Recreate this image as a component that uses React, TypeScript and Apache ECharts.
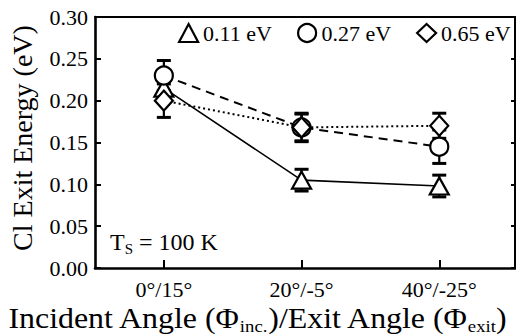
import React, { useEffect, useRef } from "react";
import * as echarts from "echarts";

const categories = ["0°/15°", "20°/-5°", "40°/-25°"];
const names = ["0.11 eV", "0.27 eV", "0.65 eV"];
const e011 = [0.215, 0.105, 0.098];
const err011 = [0.012, 0.013, 0.013];
const e027 = [0.23, 0.168, 0.145];
const err027 = [0.018, 0.016, 0.02];
const e065 = [0.2, 0.168, 0.17];
const err065 = [0.02, 0.017, 0.015];
const yTicks = [0, 0.05, 0.1, 0.15, 0.2, 0.25, 0.3];

const FONT = "Liberation Serif";

export default function App() {
  const ref = useRef<HTMLDivElement>(null);
  useEffect(() => {
    if (!ref.current) return;
    const chart = echarts.init(ref.current, undefined, { renderer: "svg" });

    const pts = (vals: number[]) => vals.map((v, i) => [i, v]);
    const errData = (vals: number[], errs: number[]) =>
      vals.map((v, i) => [i, v - errs[i], v + errs[i]]);

    const errSeries = (vals: number[], errs: number[]) => ({
      type: "custom",
      z: 1,
      silent: true,
      data: errData(vals, errs),
      renderItem: (params: any, api: any) => {
        const x = api.value(0);
        const lo = api.coord([x, api.value(1)]);
        const hi = api.coord([x, api.value(2)]);
        const w = 7;
        const st = { stroke: "#000", lineWidth: 2.2 };
        return {
          type: "group",
          children: [
            { type: "line", shape: { x1: lo[0], y1: lo[1], x2: hi[0], y2: hi[1] }, style: st },
            { type: "line", shape: { x1: lo[0] - w, y1: lo[1], x2: lo[0] + w, y2: lo[1] }, style: { stroke: "#000", lineWidth: 3 } },
            { type: "line", shape: { x1: hi[0] - w, y1: hi[1], x2: hi[0] + w, y2: hi[1] }, style: { stroke: "#000", lineWidth: 3 } },
          ],
        };
      },
    });

    const markerStyle = { color: "#fff", borderColor: "#000", borderWidth: 2.2 };
    const lineSeries = (name: string, vals: number[], symbol: string, size: any, ltype: any, lw: number) => ({
      type: "line",
      name,
      z: 3,
      data: pts(vals),
      symbol,
      symbolSize: size,
      itemStyle: markerStyle,
      lineStyle: { color: "#000", type: ltype, width: lw },
    });

    const legendCommon = {
      top: 22,
      padding: 0,
      itemWidth: 19,
      itemHeight: 18,
      itemGap: 0,
      textStyle: { fontFamily: FONT, fontSize: 22, color: "#000" },
      itemStyle: { color: "#fff", borderColor: "#000", borderWidth: 2.2 },
      selectedMode: false,
    };

    chart.setOption({
      animation: false,
      grid: { left: 95, right: 1, top: 17, bottom: 67, containLabel: false, outerBoundsMode: "none" },
      legend: [
        { ...legendCommon, left: 178, data: [{ name: names[0], icon: "triangle" }] },
        { ...legendCommon, left: 297, data: [{ name: names[1], icon: "circle" }] },
        { ...legendCommon, left: 416, data: [{ name: names[2], icon: "diamond" }] },
      ],
      xAxis: [
        {
          type: "value",
          position: "bottom",
          min: -0.5,
          max: 2.55,
          splitLine: { show: false },
          axisLine: { show: true, onZero: false, lineStyle: { color: "#000", width: 2.6 } },
          axisTick: { show: true, inside: true, length: 8, lineStyle: { color: "#000", width: 2 }, customValues: [0, 1, 2] },
          axisLabel: {
            customValues: [0, 1, 2],
            formatter: (v: number) => categories[Math.round(v)],
            margin: 10,
            fontFamily: FONT,
            fontSize: 22,
            color: "#000",
          },
        },
        {
          type: "value",
          position: "top",
          min: -0.5,
          max: 2.55,
          splitLine: { show: false },
          axisLine: { show: true, onZero: false, lineStyle: { color: "#000", width: 2 } },
          axisTick: { show: false },
          axisLabel: { show: false },
        },
      ],
      yAxis: [
        {
          type: "value",
          position: "left",
          min: 0,
          max: 0.3,
          interval: 0.05,
          splitLine: { show: false },
          axisLine: { show: true, onZero: false, lineStyle: { color: "#000", width: 2.6 } },
          axisTick: { show: true, inside: true, length: 6, lineStyle: { color: "#000", width: 2 } },
          axisLabel: {
            margin: 7,
            formatter: (v: number) => v.toFixed(2),
            fontFamily: FONT,
            fontSize: 22,
            color: "#000",
            customValues: yTicks,
          },
        },
        {
          type: "value",
          position: "right",
          min: 0,
          max: 0.3,
          interval: 0.05,
          splitLine: { show: false },
          axisLine: { show: true, onZero: false, lineStyle: { color: "#000", width: 2 } },
          axisTick: { show: true, inside: true, length: 4, lineStyle: { color: "#000", width: 2 } },
          axisLabel: { show: false },
        },
      ],
      series: [
        errSeries(e011, err011),
        errSeries(e027, err027),
        errSeries(e065, err065),
        lineSeries(names[0], e011, "triangle", [19, 17], "solid", 1.6),
        lineSeries(names[1], e027, "circle", 18, [9, 6], 2),
        lineSeries(names[2], e065, "diamond", [18, 20], [2, 3], 2),
      ],
      graphic: [
        {
          type: "text",
          left: 110,
          top: 228,
          style: {
            text: "T{s|S} = 100 K",
            fontFamily: FONT,
            fontSize: 24,
            fill: "#000",
            lineHeight: 28,
            rich: {
              s: { fontFamily: FONT, fontSize: 15, lineHeight: 12, verticalAlign: "bottom", fill: "#000" },
            },
          },
        },
        {
          type: "text",
          x: 257,
          y: 318,
          scaleX: 1.1,
          style: {
            text: "Incident Angle (Φ{s|inc.})/Exit Angle (Φ{s|exit})",
            fontFamily: FONT,
            fontSize: 29,
            fill: "#000",
            align: "center",
            verticalAlign: "middle",
            lineHeight: 34,
            rich: {
              s: { fontFamily: FONT, fontSize: 17, lineHeight: 14, verticalAlign: "bottom", fill: "#000" },
            },
          },
        },
        {
          type: "text",
          x: 22,
          y: 138,
          rotation: Math.PI / 2,
          style: {
            text: "Cl Exit Energy (eV)",
            fontFamily: FONT,
            fontSize: 28,
            fill: "#000",
            align: "center",
            verticalAlign: "middle",
          },
        },
      ],
    });
    return () => chart.dispose();
  }, []);
  return <div ref={ref} style={{ width: 516, height: 335, position: "absolute", left: 0, top: 0 }} />;
}
